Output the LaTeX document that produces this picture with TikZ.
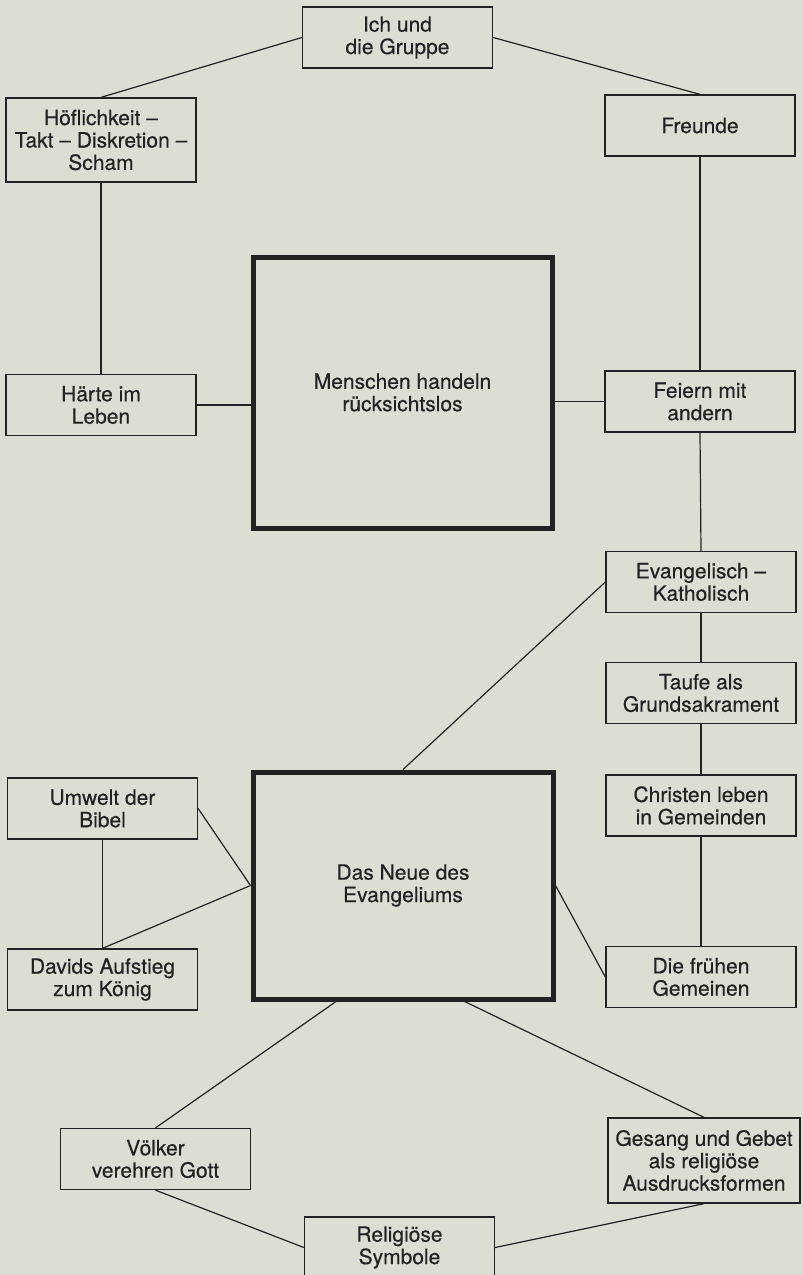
\documentclass[tikz,border=0pt]{standalone}
\usepackage{fontspec}
\setmainfont[FakeBold=0.4]{TeX Gyre Heros}
\usepackage{xcolor}
\usepackage{tikz}
\definecolor{paper}{RGB}{220,222,212}
\definecolor{ink}{RGB}{34,34,34}
\tikzset{
  topic/.style={draw=ink, text=ink, line width=0.65pt, minimum width=95pt, minimum height=30.5pt,
    inner sep=0pt, align=center, font=\fontsize{10.5}{11.2}\selectfont},
  theme/.style={topic, line width=2.5pt},
  link/.style={draw=ink, line width=0.6pt}
}

\begin{document}
\begin{tikzpicture}[x=0.5pt,y=-0.5pt]
    \clip (0,0) rectangle (803,1275);
    \fill [paper] (0,0) rectangle (803,1275);

    % upper half
    \node [topic] (ich) at (397.5,37.5) {Ich und\\die Gruppe};
    \node [topic, minimum height=42pt] (hoef) at (101,140) {Höflichkeit –\\Takt – Diskretion –\\Scham};
    \node [topic] (freunde) at (700,125.5) {Freunde};
    \node [theme, minimum width=149.5pt, minimum height=135.5pt] (menschen) at (402.5,392.5) {Menschen handeln\\rücksichtslos};
    \node [topic] (haerte) at (101,405) {Härte im\\Leben};
    \node [topic] (feiern) at (700,401.5) {Feiern mit\\andern};

    % lower half
    \node [topic] (evang) at (701,582) {Evangelisch –\\Katholisch};
    \node [topic] (taufe) at (701,693) {Taufe als\\Grundsakrament};
    \node [topic] (christen) at (701,805.5) {Christen leben\\in Gemeinden};
    \node [topic] (umwelt) at (102.5,808.5) {Umwelt der\\Bibel};
    \node [theme, minimum width=150pt, minimum height=113.5pt] (neue) at (403,885.5) {Das Neue des\\Evangeliums};
    \node [topic] (davids) at (102.5,979.5) {Davids Aufstieg\\zum König};
    \node [topic] (fruehen) at (701,977) {Die frühen\\Gemeinen};
    \node [topic] (voelker) at (155.5,1159) {Völker\\verehren Gott};
    \node [topic, minimum width=96pt, minimum height=42.5pt] (gesang) at (704,1160.5) {Gesang und Gebet\\als religiöse\\Ausdrucksformen};
    \node [topic] (relig) at (399.5,1247.5) {Religiöse\\Symbole};

    \draw [link] (ich.west) -- (hoef.north);
    \draw [link] (ich.east) -- (freunde.north);
    \draw [link] (hoef.south) -- (haerte.north);
    \draw [link] (freunde.south) -- (feiern.north);
    \draw [link] (haerte.east) -- (haerte.east -| menschen.west);
    \draw [link] (feiern.west) -- (feiern.west -| menschen.east);
    \draw [link] (feiern.south) -- (evang.north);
    \draw [link] (evang.south) -- (taufe.north);
    \draw [link] (taufe.south) -- (christen.north);
    \draw [link] (christen.south) -- (fruehen.north);
    \draw [link] (evang.west) -- (neue.north);
    \draw [link] (umwelt.east) -- (neue.west);
    \draw [link] (davids.north) -- (neue.west);
    \draw [link] (umwelt.south) -- (davids.north);
    \draw [link] (neue.east) -- (fruehen.west);
    \draw [link] (neue.240) -- (voelker.north);
    \draw [link] (neue.298) -- (gesang.north);
    \draw [link] (voelker.south) -- (relig.west);
    \draw [link] (gesang.south) -- (relig.east);
\end{tikzpicture}
\end{document}
